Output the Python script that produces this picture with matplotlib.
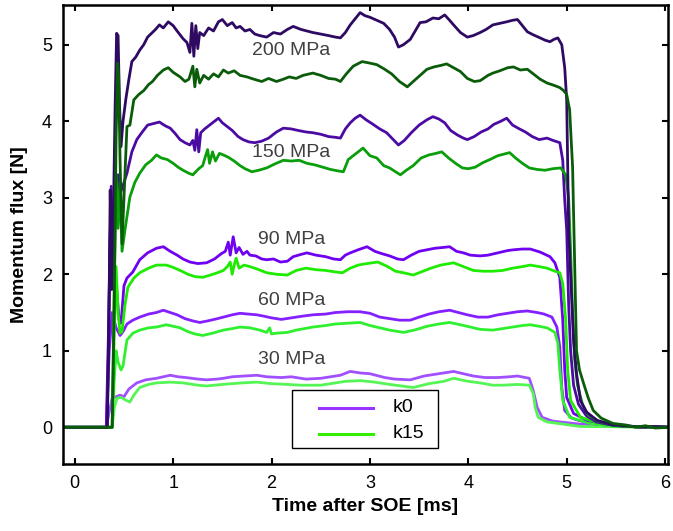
import matplotlib
matplotlib.use("Agg")
import matplotlib.pyplot as plt
from matplotlib.patches import Rectangle

plt.rcParams["font.family"] = ["Liberation Sans", "DejaVu Sans"]

# --- data: (time [ms], momentum flux [N]) ---
K0_30 = [(-0.15, 0), (0.32, 0), (0.35, 0.2), (0.38, 0.38), (0.42, 0.4), (0.46, 0.42), (0.50, 0.4),
         (0.55, 0.5), (0.63, 0.58), (0.72, 0.62), (0.83, 0.64), (0.90, 0.66), (0.97, 0.68), (1.05, 0.66),
         (1.13, 0.65), (1.25, 0.63), (1.34, 0.62), (1.45, 0.63), (1.51, 0.64), (1.60, 0.66), (1.72, 0.67),
         (1.85, 0.68), (1.95, 0.66), (2.10, 0.65), (2.20, 0.66), (2.35, 0.63), (2.50, 0.64), (2.70, 0.68),
         (2.80, 0.73), (2.90, 0.71), (3.00, 0.70), (3.15, 0.65), (3.25, 0.63), (3.41, 0.62), (3.55, 0.67),
         (3.70, 0.70), (3.85, 0.73), (3.95, 0.70), (4.05, 0.67), (4.17, 0.65), (4.30, 0.65), (4.42, 0.66),
         (4.50, 0.67), (4.62, 0.64), (4.66, 0.48), (4.70, 0.26), (4.75, 0.13), (4.86, 0.08), (5.14, 0.04),
         (5.65, 0.01), (6.05, 0)]
K15_30 = [(-0.15, 0), (0.38, 0), (0.40, 0.25), (0.43, 0.38), (0.47, 0.39), (0.51, 0.36), (0.56, 0.33),
          (0.60, 0.42), (0.66, 0.52), (0.75, 0.56), (0.83, 0.58), (0.97, 0.59), (1.10, 0.58), (1.25, 0.55),
          (1.34, 0.54), (1.50, 0.56), (1.70, 0.58), (1.85, 0.59), (2.00, 0.57), (2.16, 0.56), (2.30, 0.55),
          (2.50, 0.55), (2.75, 0.60), (2.90, 0.61), (3.05, 0.59), (3.20, 0.56), (3.44, 0.52), (3.60, 0.57),
          (3.75, 0.60), (3.85, 0.64), (4.00, 0.60), (4.12, 0.58), (4.25, 0.55), (4.35, 0.55), (4.50, 0.56),
          (4.62, 0.55), (4.66, 0.44), (4.68, 0.26), (4.71, 0.13), (4.80, 0.07), (5.14, 0.01), (6.05, 0)]
K0_60 = [(-0.15, 0), (0.32, 0), (0.35, 1.0), (0.38, 1.5), (0.42, 1.3), (0.46, 1.2), (0.49, 1.25),
         (0.53, 1.35), (0.59, 1.4), (0.66, 1.44), (0.75, 1.48), (0.83, 1.5), (0.90, 1.53), (0.97, 1.5),
         (1.04, 1.47), (1.12, 1.42), (1.20, 1.39), (1.27, 1.37), (1.35, 1.39), (1.45, 1.42), (1.51, 1.44),
         (1.60, 1.47), (1.68, 1.49), (1.76, 1.48), (1.85, 1.47), (1.93, 1.45), (2.00, 1.43), (2.10, 1.41),
         (2.20, 1.43), (2.30, 1.45), (2.42, 1.47), (2.55, 1.48), (2.65, 1.5), (2.77, 1.51), (2.90, 1.51),
         (3.00, 1.49), (3.10, 1.44), (3.20, 1.42), (3.30, 1.4), (3.41, 1.4), (3.50, 1.44), (3.60, 1.48),
         (3.70, 1.51), (3.81, 1.53), (3.90, 1.5), (3.99, 1.47), (4.10, 1.44), (4.20, 1.44), (4.30, 1.47),
         (4.40, 1.49), (4.50, 1.51), (4.60, 1.52), (4.70, 1.5), (4.77, 1.48), (4.85, 1.44), (4.90, 1.31),
         (4.93, 1.05), (4.95, 0.52), (4.98, 0.22), (5.05, 0.12), (5.12, 0.09), (5.30, 0.04), (5.60, 0.01),
         (6.05, 0)]
K15_60 = [(-0.15, 0), (0.38, 0), (0.40, 0.6), (0.42, 1.0), (0.44, 0.85), (0.47, 0.75), (0.49, 0.8),
          (0.53, 1.14), (0.59, 1.23), (0.66, 1.27), (0.75, 1.3), (0.83, 1.31), (0.93, 1.34), (1.00, 1.32),
          (1.07, 1.3), (1.15, 1.25), (1.22, 1.22), (1.30, 1.2), (1.40, 1.23), (1.51, 1.27), (1.60, 1.29),
          (1.68, 1.31), (1.78, 1.3), (1.88, 1.27), (1.95, 1.24), (1.98, 1.3), (2.00, 1.22), (2.05, 1.23),
          (2.16, 1.24), (2.25, 1.27), (2.42, 1.31), (2.55, 1.33), (2.65, 1.35), (2.77, 1.36), (2.90, 1.37),
          (3.00, 1.33), (3.10, 1.3), (3.20, 1.27), (3.34, 1.24), (3.45, 1.27), (3.58, 1.32), (3.70, 1.35),
          (3.81, 1.37), (3.92, 1.34), (4.02, 1.31), (4.12, 1.28), (4.25, 1.27), (4.35, 1.29), (4.45, 1.31),
          (4.55, 1.33), (4.63, 1.34), (4.72, 1.32), (4.80, 1.3), (4.88, 1.24), (4.91, 1.1), (4.93, 0.75),
          (4.96, 0.35), (5.03, 0.13), (5.24, 0.05), (5.50, 0.01), (6.05, 0)]
K0_90 = [(-0.15, 0), (0.32, 0), (0.345, 1.4), (0.365, 2.8), (0.39, 2.3), (0.42, 1.9), (0.45, 1.4),
         (0.47, 1.36), (0.50, 1.85), (0.53, 1.95), (0.59, 2.03), (0.66, 2.19), (0.74, 2.28), (0.83, 2.34),
         (0.90, 2.36), (0.97, 2.3), (1.04, 2.25), (1.10, 2.2), (1.17, 2.16), (1.25, 2.14), (1.34, 2.15),
         (1.42, 2.2), (1.49, 2.27), (1.53, 2.3), (1.56, 2.42), (1.58, 2.25), (1.61, 2.49), (1.64, 2.28),
         (1.67, 2.35), (1.71, 2.26), (1.75, 2.3), (1.78, 2.25), (1.84, 2.24), (1.90, 2.2), (1.95, 2.19),
         (2.02, 2.2), (2.09, 2.16), (2.16, 2.17), (2.22, 2.23), (2.30, 2.26), (2.36, 2.28), (2.45, 2.25),
         (2.55, 2.23), (2.63, 2.2), (2.70, 2.19), (2.75, 2.25), (2.80, 2.28), (2.88, 2.32), (2.97, 2.36),
         (3.05, 2.3), (3.12, 2.27), (3.20, 2.24), (3.28, 2.2), (3.34, 2.19), (3.42, 2.25), (3.50, 2.3),
         (3.58, 2.32), (3.66, 2.34), (3.74, 2.35), (3.81, 2.36), (3.88, 2.3), (3.95, 2.28), (4.02, 2.25),
         (4.12, 2.24), (4.20, 2.25), (4.30, 2.28), (4.40, 2.31), (4.46, 2.32), (4.55, 2.33), (4.63, 2.33),
         (4.73, 2.29), (4.83, 2.23), (4.88, 2.15), (4.93, 1.96), (4.96, 1.4), (4.98, 0.75), (5.00, 0.39),
         (5.07, 0.18), (5.21, 0.09), (5.47, 0.03), (5.70, 0.01), (6.05, 0)]
K15_90 = [(-0.15, 0), (0.38, 0), (0.40, 1.2), (0.42, 2.1), (0.44, 1.5), (0.46, 1.23), (0.48, 1.25),
          (0.51, 1.6), (0.54, 1.83), (0.60, 1.95), (0.66, 2.02), (0.75, 2.08), (0.83, 2.12), (0.93, 2.12),
          (1.00, 2.09), (1.07, 2.05), (1.15, 2.0), (1.22, 1.97), (1.30, 1.96), (1.38, 1.99), (1.45, 2.02),
          (1.51, 2.05), (1.55, 2.1), (1.58, 2.16), (1.60, 2.0), (1.62, 2.12), (1.64, 2.21), (1.67, 2.08),
          (1.72, 2.12), (1.78, 2.1), (1.85, 2.07), (1.95, 2.02), (2.05, 2.0), (2.16, 1.99), (2.25, 2.05),
          (2.35, 2.08), (2.45, 2.06), (2.55, 2.05), (2.65, 2.03), (2.72, 2.02), (2.80, 2.08), (2.88, 2.12),
          (2.97, 2.14), (3.08, 2.16), (3.18, 2.1), (3.26, 2.04), (3.34, 2.02), (3.44, 1.99), (3.52, 2.03),
          (3.62, 2.08), (3.72, 2.12), (3.85, 2.15), (3.95, 2.1), (4.05, 2.05), (4.15, 2.04), (4.25, 2.04),
          (4.35, 2.05), (4.45, 2.08), (4.55, 2.1), (4.63, 2.12), (4.72, 2.1), (4.80, 2.08), (4.88, 2.04),
          (4.93, 2.02), (4.96, 1.88), (4.99, 1.4), (5.01, 0.75), (5.04, 0.35), (5.14, 0.13), (5.34, 0.05),
          (5.60, 0.01), (6.05, 0)]
K0_150 = [(-0.15, 0), (0.33, 0), (0.355, 2.2), (0.37, 3.15), (0.39, 2.0), (0.41, 2.8), (0.44, 3.3),
          (0.46, 3.05), (0.50, 3.2), (0.53, 3.32), (0.58, 3.6), (0.63, 3.76), (0.68, 3.85), (0.74, 3.95),
          (0.80, 3.97), (0.86, 3.99), (0.92, 3.94), (0.97, 3.91), (1.02, 3.84), (1.07, 3.76), (1.12, 3.72),
          (1.17, 3.69), (1.20, 3.75), (1.22, 3.62), (1.24, 3.89), (1.26, 3.6), (1.28, 3.85), (1.32, 3.9),
          (1.37, 3.95), (1.42, 4.0), (1.46, 4.04), (1.50, 3.98), (1.55, 3.93), (1.60, 3.88), (1.66, 3.8),
          (1.71, 3.76), (1.77, 3.73), (1.83, 3.72), (1.90, 3.74), (1.97, 3.78), (2.05, 3.86), (2.12, 3.91),
          (2.20, 3.9), (2.27, 3.88), (2.35, 3.86), (2.42, 3.85), (2.50, 3.83), (2.58, 3.8), (2.65, 3.79),
          (2.70, 3.78), (2.75, 3.9), (2.80, 3.98), (2.85, 4.04), (2.90, 4.08), (2.96, 4.02), (3.02, 3.97),
          (3.10, 3.9), (3.17, 3.85), (3.23, 3.77), (3.29, 3.69), (3.35, 3.75), (3.42, 3.85), (3.50, 3.95),
          (3.58, 4.02), (3.64, 4.06), (3.70, 4.03), (3.76, 3.98), (3.82, 3.88), (3.89, 3.82), (3.95, 3.78),
          (3.99, 3.76), (4.06, 3.8), (4.13, 3.86), (4.20, 3.9), (4.26, 3.96), (4.33, 4.0), (4.39, 4.04),
          (4.45, 3.95), (4.52, 3.9), (4.58, 3.86), (4.65, 3.8), (4.72, 3.76), (4.80, 3.78), (4.86, 3.75),
          (4.93, 3.72), (4.96, 3.49), (4.98, 2.97), (5.00, 2.58), (5.02, 1.6), (5.04, 1.0), (5.07, 0.55),
          (5.12, 0.3), (5.20, 0.15), (5.30, 0.07), (5.45, 0.03), (5.60, 0.01), (6.05, 0)]
K15_150 = [(-0.15, 0), (0.38, 0), (0.40, 1.8), (0.42, 3.3), (0.44, 2.6), (0.46, 3.2), (0.48, 2.3),
           (0.51, 2.58), (0.56, 3.01), (0.61, 3.2), (0.66, 3.32), (0.72, 3.43), (0.78, 3.49), (0.83, 3.56),
           (0.88, 3.52), (0.94, 3.5), (1.00, 3.45), (1.05, 3.4), (1.10, 3.36), (1.16, 3.32), (1.20, 3.3),
           (1.26, 3.38), (1.30, 3.42), (1.33, 3.55), (1.35, 3.63), (1.37, 3.45), (1.40, 3.6), (1.43, 3.48),
           (1.47, 3.58), (1.51, 3.56), (1.56, 3.53), (1.62, 3.48), (1.68, 3.42), (1.73, 3.38), (1.80, 3.34),
           (1.87, 3.36), (1.95, 3.39), (2.03, 3.44), (2.12, 3.49), (2.20, 3.48), (2.28, 3.49), (2.36, 3.45),
           (2.44, 3.43), (2.52, 3.4), (2.60, 3.37), (2.68, 3.35), (2.73, 3.34), (2.78, 3.5), (2.84, 3.56),
           (2.93, 3.65), (3.00, 3.55), (3.07, 3.52), (3.14, 3.42), (3.20, 3.39), (3.26, 3.34), (3.31, 3.3),
           (3.37, 3.36), (3.44, 3.42), (3.52, 3.52), (3.60, 3.56), (3.67, 3.58), (3.73, 3.6), (3.80, 3.52),
           (3.87, 3.45), (3.94, 3.39), (4.00, 3.38), (4.07, 3.4), (4.15, 3.46), (4.22, 3.5), (4.30, 3.55),
           (4.36, 3.57), (4.42, 3.59), (4.48, 3.52), (4.55, 3.45), (4.62, 3.39), (4.70, 3.37), (4.78, 3.36),
           (4.86, 3.38), (4.94, 3.39), (4.99, 3.3), (5.02, 3.0), (5.04, 2.3), (5.06, 1.5), (5.08, 0.9),
           (5.11, 0.55), (5.16, 0.3), (5.22, 0.16), (5.32, 0.08), (5.47, 0.03), (5.60, 0.01), (6.05, 0)]
K0_200 = [(-0.15, 0), (0.33, 0), (0.345, 1.2), (0.36, 3.1), (0.375, 1.8), (0.39, 2.6), (0.41, 4.2),
          (0.425, 5.15), (0.44, 5.12), (0.455, 4.2), (0.47, 3.67), (0.49, 4.0), (0.52, 4.3), (0.55, 4.55),
          (0.58, 4.78), (0.62, 4.84), (0.66, 4.93), (0.70, 5.0), (0.74, 5.1), (0.78, 5.15), (0.82, 5.2),
          (0.86, 5.26), (0.90, 5.22), (0.95, 5.3), (1.00, 5.25), (1.04, 5.18), (1.07, 5.13), (1.10, 5.08),
          (1.14, 5.03), (1.17, 4.9), (1.19, 5.28), (1.21, 4.85), (1.23, 5.25), (1.25, 4.95), (1.27, 5.16),
          (1.31, 5.12), (1.36, 5.22), (1.41, 5.18), (1.46, 5.3), (1.50, 5.33), (1.55, 5.25), (1.60, 5.29),
          (1.64, 5.22), (1.68, 5.24), (1.73, 5.18), (1.78, 5.2), (1.83, 5.14), (1.88, 5.12), (1.95, 5.1),
          (2.02, 5.16), (2.09, 5.14), (2.16, 5.2), (2.22, 5.24), (2.30, 5.2), (2.36, 5.18), (2.42, 5.16),
          (2.50, 5.14), (2.58, 5.12), (2.65, 5.1), (2.70, 5.09), (2.75, 5.16), (2.80, 5.26), (2.85, 5.34),
          (2.90, 5.42), (2.95, 5.38), (3.00, 5.36), (3.07, 5.32), (3.14, 5.28), (3.20, 5.2), (3.25, 5.1),
          (3.29, 4.97), (3.34, 5.0), (3.41, 5.07), (3.46, 5.18), (3.51, 5.29), (3.57, 5.3), (3.64, 5.35),
          (3.70, 5.34), (3.76, 5.39), (3.81, 5.32), (3.85, 5.26), (3.92, 5.16), (3.99, 5.1), (4.05, 5.12),
          (4.12, 5.16), (4.18, 5.2), (4.25, 5.26), (4.32, 5.28), (4.39, 5.3), (4.45, 5.32), (4.50, 5.33),
          (4.55, 5.25), (4.60, 5.17), (4.66, 5.13), (4.73, 5.09), (4.78, 5.06), (4.83, 5.04), (4.87, 5.07),
          (4.91, 5.09), (4.95, 5.0), (4.98, 4.7), (5.00, 4.28), (5.02, 2.58), (5.05, 1.7), (5.07, 1.14),
          (5.10, 0.7), (5.14, 0.35), (5.20, 0.2), (5.31, 0.09), (5.47, 0.03), (5.60, 0.02), (5.75, 0),
          (5.90, 0.01), (6.05, 0)]
K15_200 = [(-0.15, 0), (0.38, 0), (0.40, 1.5), (0.42, 3.8), (0.435, 4.76), (0.445, 4.6), (0.46, 3.5),
           (0.48, 2.4), (0.50, 3.0), (0.53, 3.93), (0.56, 3.95), (0.60, 4.28), (0.65, 4.35), (0.70, 4.4),
           (0.75, 4.48), (0.79, 4.52), (0.84, 4.6), (0.90, 4.67), (0.95, 4.7), (1.00, 4.64), (1.07, 4.58),
           (1.12, 4.52), (1.16, 4.55), (1.20, 4.72), (1.22, 4.45), (1.24, 4.68), (1.27, 4.5), (1.31, 4.6),
           (1.36, 4.55), (1.41, 4.62), (1.46, 4.58), (1.51, 4.67), (1.56, 4.63), (1.62, 4.66), (1.68, 4.6),
           (1.75, 4.58), (1.82, 4.55), (1.90, 4.52), (1.97, 4.56), (2.05, 4.52), (2.12, 4.55), (2.18, 4.58),
           (2.25, 4.56), (2.32, 4.6), (2.42, 4.63), (2.50, 4.6), (2.58, 4.56), (2.65, 4.55), (2.70, 4.52),
           (2.76, 4.62), (2.83, 4.72), (2.92, 4.78), (3.00, 4.76), (3.07, 4.74), (3.15, 4.68), (3.22, 4.62),
           (3.30, 4.52), (3.38, 4.45), (3.44, 4.52), (3.51, 4.6), (3.58, 4.68), (3.65, 4.71), (3.72, 4.73),
           (3.78, 4.75), (3.85, 4.7), (3.92, 4.65), (3.99, 4.56), (4.06, 4.52), (4.12, 4.53), (4.20, 4.6),
           (4.25, 4.63), (4.32, 4.66), (4.40, 4.7), (4.46, 4.71), (4.53, 4.67), (4.60, 4.68), (4.66, 4.62),
           (4.73, 4.55), (4.80, 4.5), (4.87, 4.47), (4.93, 4.44), (4.97, 4.4), (5.00, 4.35), (5.03, 4.15),
           (5.06, 3.4), (5.08, 2.2), (5.10, 1.0), (5.13, 0.75), (5.17, 0.58), (5.22, 0.38), (5.27, 0.22),
           (5.35, 0.12), (5.47, 0.05), (5.60, 0.03), (5.70, 0), (5.80, 0.02), (5.90, -0.01), (6.05, 0)]

PRESSURES = ["30 MPa", "60 MPa", "90 MPa", "150 MPa", "200 MPa"]
K0_SERIES = [K0_30, K0_60, K0_90, K0_150, K0_200]
K15_SERIES = [K15_30, K15_60, K15_90, K15_150, K15_200]
K0_COLORS = ["#A050FF", "#8420FF", "#7000F0", "#4B0BA3", "#2E0A62"]
K15_COLORS = ["#55F555", "#2EF02E", "#1EEB00", "#0A9E0A", "#0A5C0A"]
LABEL_Y = [0.88, 1.66, 2.46, 3.59, 4.93]
LEGEND_NAMES = ["k0", "k15"]
LEGEND_COLORS = ["#9933FF", "#33EE00"]


fig = plt.figure(figsize=(6.73, 5.31), dpi=100)
ax = fig.add_axes([0.0936, 0.1262, 0.899, 0.8644])

for k0, k15, c0, c15 in zip(K0_SERIES, K15_SERIES, K0_COLORS, K15_COLORS):
    t, y = zip(*k0)
    ax.plot(t, y, color=c0, lw=2.0)
    t, y = zip(*k15)
    ax.plot(t, y, color=c15, lw=2.0)

for lab, ly in zip(PRESSURES, LABEL_Y):
    ax.text(2.2, ly, lab, ha="center", va="center", fontsize=14, color="#404040", zorder=5)

# legend box drawn by hand (wide box, long handles)
tr = ax.transAxes
ax.add_patch(Rectangle((0.3785, 0.035), 0.2415, 0.126, transform=tr, facecolor="white",
                       edgecolor="black", lw=1.0, zorder=6))
for i, (name, col) in enumerate(zip(LEGEND_NAMES, LEGEND_COLORS)):
    yy = 0.122 - i * 0.0566
    ax.plot([0.423, 0.512], [yy, yy], transform=tr, color=col, lw=2.2, zorder=7)
    ax.text(0.545, yy, name, transform=tr, va="center", ha="left", fontsize=14, zorder=7)

ax.set_xlim(-0.12, 6.03)
ax.set_ylim(-0.48, 5.52)
ax.set_xticks(range(0, 7))
ax.set_yticks(range(0, 6))
ax.tick_params(direction="in", top=True, right=True, length=4, width=1.5, labelsize=13, pad=8)
for s in ax.spines.values():
    s.set_linewidth(1.8)

ax.set_xlabel("Time after SOE [ms]", fontsize=14, fontweight="bold")
ax.set_ylabel("Momentum flux [N]", fontsize=14, fontweight="bold", labelpad=10)

fig.savefig("out.png", dpi=100)
